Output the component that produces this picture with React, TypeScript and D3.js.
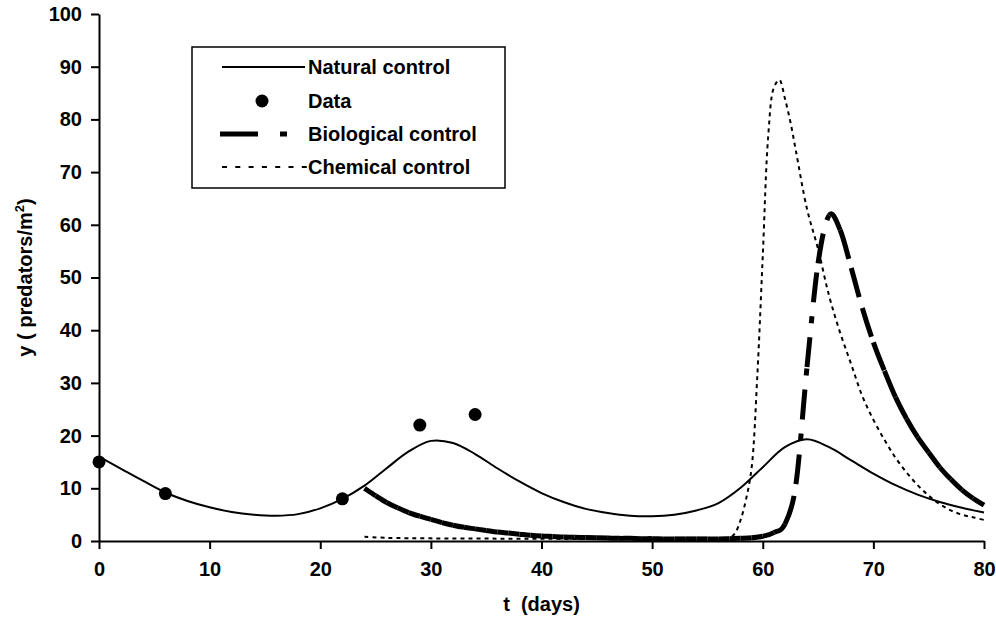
import React, { useEffect, useRef } from "react";
import * as d3 from "d3";

type Pt = { t: number; y: number };

// Natural control model curve
const NATURAL: Pt[] = [
  { t: 0, y: 16.0 }, { t: 2, y: 13.7 }, { t: 4, y: 11.4 }, { t: 6, y: 9.2 },
  { t: 8, y: 7.6 }, { t: 10, y: 6.4 }, { t: 12, y: 5.5 }, { t: 14, y: 5.0 },
  { t: 16, y: 4.8 }, { t: 18, y: 5.1 }, { t: 20, y: 6.2 }, { t: 22, y: 8.0 },
  { t: 24, y: 10.5 }, { t: 26, y: 13.8 }, { t: 28, y: 17.0 }, { t: 30, y: 19.0 },
  { t: 32, y: 18.6 }, { t: 34, y: 16.5 }, { t: 36, y: 13.8 }, { t: 38, y: 11.3 },
  { t: 40, y: 9.1 }, { t: 42, y: 7.4 }, { t: 44, y: 6.1 }, { t: 46, y: 5.3 },
  { t: 48, y: 4.8 }, { t: 50, y: 4.7 }, { t: 52, y: 5.0 }, { t: 54, y: 5.8 },
  { t: 56, y: 7.2 }, { t: 58, y: 10.1 }, { t: 60, y: 14.0 }, { t: 62, y: 17.8 },
  { t: 64, y: 19.3 }, { t: 66, y: 17.8 }, { t: 68, y: 15.3 }, { t: 70, y: 12.8 },
  { t: 72, y: 10.6 }, { t: 74, y: 8.8 }, { t: 76, y: 7.4 }, { t: 78, y: 6.3 },
  { t: 80, y: 5.4 },
];

// Field observations
const DATA: Pt[] = [
  { t: 0, y: 15 }, { t: 6, y: 9 }, { t: 22, y: 8 }, { t: 29, y: 22 }, { t: 34, y: 24 },
];

// Biological control curve
const BIOLOGICAL: Pt[] = [
  { t: 24, y: 10.0 }, { t: 25, y: 8.6 }, { t: 26, y: 7.3 }, { t: 27, y: 6.3 },
  { t: 28, y: 5.4 }, { t: 29, y: 4.7 }, { t: 30, y: 4.1 }, { t: 31, y: 3.5 },
  { t: 32, y: 3.0 }, { t: 33, y: 2.6 }, { t: 34, y: 2.3 }, { t: 35, y: 2.0 },
  { t: 36, y: 1.7 }, { t: 37, y: 1.5 }, { t: 38, y: 1.3 }, { t: 39, y: 1.1 },
  { t: 40, y: 0.95 }, { t: 41, y: 0.85 }, { t: 42, y: 0.75 }, { t: 43, y: 0.7 },
  { t: 44, y: 0.65 }, { t: 45, y: 0.6 }, { t: 46, y: 0.55 }, { t: 47, y: 0.5 },
  { t: 48, y: 0.5 }, { t: 49, y: 0.45 }, { t: 50, y: 0.45 }, { t: 51, y: 0.4 },
  { t: 52, y: 0.4 }, { t: 53, y: 0.4 }, { t: 54, y: 0.4 }, { t: 55, y: 0.4 },
  { t: 56, y: 0.4 }, { t: 57, y: 0.45 }, { t: 58, y: 0.5 }, { t: 59, y: 0.6 },
  { t: 60, y: 0.9 }, { t: 61, y: 1.6 }, { t: 62, y: 3.2 }, { t: 63, y: 10.8 },
  { t: 64, y: 33.0 }, { t: 65, y: 52.7 }, { t: 66, y: 61.8 }, { t: 67, y: 59.0 },
  { t: 68, y: 51.8 }, { t: 69, y: 44.2 }, { t: 70, y: 37.7 }, { t: 71, y: 32.3 },
  { t: 72, y: 27.3 }, { t: 73, y: 23.2 }, { t: 74, y: 19.7 }, { t: 75, y: 16.8 },
  { t: 76, y: 14.0 }, { t: 77, y: 11.7 }, { t: 78, y: 9.7 }, { t: 79, y: 8.1 },
  { t: 80, y: 6.8 },
];

// Chemical control curve
const CHEMICAL: Pt[] = [
  { t: 24, y: 0.8 }, { t: 26, y: 0.6 }, { t: 30, y: 0.5 }, { t: 36, y: 0.45 },
  { t: 42, y: 0.4 }, { t: 48, y: 0.4 }, { t: 54, y: 0.4 }, { t: 56, y: 0.4 },
  { t: 57, y: 0.6 }, { t: 57.5, y: 1.5 }, { t: 58, y: 4.0 }, { t: 58.5, y: 8.0 },
  { t: 59, y: 14.0 }, { t: 59.5, y: 31.0 }, { t: 60, y: 54.0 }, { t: 60.5, y: 77.0 },
  { t: 61, y: 86.0 }, { t: 61.5, y: 87.5 }, { t: 62, y: 84.0 }, { t: 62.5, y: 79.5 },
  { t: 63, y: 74.0 }, { t: 64, y: 63.0 }, { t: 65, y: 55.4 }, { t: 66, y: 46.5 },
  { t: 67, y: 39.5 }, { t: 68, y: 33.5 }, { t: 69, y: 27.5 }, { t: 70, y: 23.0 },
  { t: 71, y: 19.2 }, { t: 72, y: 15.8 }, { t: 73, y: 13.0 }, { t: 74, y: 10.6 },
  { t: 75, y: 8.6 }, { t: 76, y: 7.0 }, { t: 77, y: 5.8 }, { t: 78, y: 5.0 },
  { t: 79, y: 4.5 }, { t: 80, y: 4.0 },
];

const X_TICKS = [0, 10, 20, 30, 40, 50, 60, 70, 80];
const Y_TICKS = [0, 10, 20, 30, 40, 50, 60, 70, 80, 90, 100];
const LEGEND = ["Natural control", "Data", "Biological control", "Chemical control"];

const W = 996;
const H = 621;
const FONT = "'Liberation Sans', Arial, sans-serif";
const BIO_DASH = "30,14,7,14";
const CHEM_DASH = "4,4";

export default function App() {
  const svgRef = useRef<SVGSVGElement>(null);

  useEffect(() => {
    const svg = d3.select(svgRef.current);
    svg.selectAll("*").remove();

    const x = d3.scaleLinear().domain([0, 80]).range([99, 984]);
    const y = d3.scaleLinear().domain([0, 100]).range([541, 14]);

    const line = d3.line<Pt>()
      .x(d => x(d.t))
      .y(d => y(d.y))
      .curve(d3.curveCatmullRom.alpha(0.5));

    // Chemical control (thin dotted)
    svg.append("path")
      .datum(CHEMICAL)
      .attr("d", line)
      .attr("fill", "none")
      .attr("stroke", "#000")
      .attr("stroke-width", 2)
      .attr("stroke-dasharray", CHEM_DASH);

    // Natural control
    svg.append("path")
      .datum(NATURAL)
      .attr("d", line)
      .attr("fill", "none")
      .attr("stroke", "#000")
      .attr("stroke-width", 2);

    // Biological control: dash pattern restarts on every smoothed segment
    const P = BIOLOGICAL.map(d => [x(d.t), y(d.y)]);
    for (let i = 0; i < P.length - 1; i++) {
      const p0 = P[i - 1] ?? P[i];
      const p1 = P[i];
      const p2 = P[i + 1];
      const p3 = P[i + 2] ?? P[i + 1];
      const c1 = [p1[0] + (p2[0] - p0[0]) / 6, p1[1] + (p2[1] - p0[1]) / 6];
      const c2 = [p2[0] - (p3[0] - p1[0]) / 6, p2[1] - (p3[1] - p1[1]) / 6];
      svg.append("path")
        .attr("d", `M${p1[0]},${p1[1]}C${c1[0]},${c1[1]} ${c2[0]},${c2[1]} ${p2[0]},${p2[1]}`)
        .attr("fill", "none")
        .attr("stroke", "#000")
        .attr("stroke-width", 5)
        .attr("stroke-dasharray", BIO_DASH);
    }

    // Axes
    const yAxis = svg.append("g")
      .attr("transform", `translate(${x(0)},0)`)
      .call(d3.axisLeft(y).tickValues(Y_TICKS).tickSize(8).tickSizeOuter(0).tickPadding(9));
    const xAxis = svg.append("g")
      .attr("transform", `translate(0,${y(0)})`)
      .call(d3.axisBottom(x).tickValues(X_TICKS).tickSize(8).tickSizeOuter(0).tickPadding(13));
    [yAxis, xAxis].forEach(a => {
      a.attr("font-family", FONT).attr("font-size", 20).attr("font-weight", "bold");
      a.select(".domain").attr("stroke", "#000").attr("stroke-width", 2);
      a.selectAll(".tick line").attr("stroke", "#000").attr("stroke-width", 2);
      a.selectAll(".tick text").attr("fill", "#000");
    });

    // Data points
    svg.selectAll(".obs")
      .data(DATA)
      .join("circle")
      .attr("class", "obs")
      .attr("cx", d => x(d.t))
      .attr("cy", d => y(d.y))
      .attr("r", 6.5)
      .attr("fill", "#000");

    // Axis titles
    svg.append("text")
      .attr("x", (x(0) + x(80)) / 2)
      .attr("y", 611)
      .attr("text-anchor", "middle")
      .attr("font-family", FONT)
      .attr("font-size", 20)
      .attr("font-weight", "bold")
      .text("t\u00A0 (days)");

    const yt = svg.append("text")
      .attr("transform", `translate(32,${(y(0) + y(100)) / 2}) rotate(-90)`)
      .attr("text-anchor", "middle")
      .attr("font-family", FONT)
      .attr("font-size", 20)
      .attr("font-weight", "bold");
    yt.append("tspan").text("y ( predators/m");
    yt.append("tspan").attr("font-size", 13).attr("dy", -8).text("2");
    yt.append("tspan").attr("dy", 8).text(")");

    // Legend
    const lg = svg.append("g");
    lg.append("rect")
      .attr("x", 192).attr("y", 47)
      .attr("width", 313).attr("height", 141)
      .attr("fill", "#fff")
      .attr("stroke", "#000")
      .attr("stroke-width", 1.5);
    const rows = [67, 101, 134, 167];
    lg.append("line").attr("x1", 222).attr("x2", 305).attr("y1", rows[0]).attr("y2", rows[0])
      .attr("stroke", "#000").attr("stroke-width", 2);
    lg.append("circle").attr("cx", 262).attr("cy", rows[1]).attr("r", 6.5).attr("fill", "#000");
    lg.append("line").attr("x1", 220).attr("x2", 287).attr("y1", rows[2]).attr("y2", rows[2])
      .attr("stroke", "#000").attr("stroke-width", 5).attr("stroke-dasharray", "38,22,7");
    lg.append("line").attr("x1", 222).attr("x2", 308).attr("y1", rows[3]).attr("y2", rows[3])
      .attr("stroke", "#000").attr("stroke-width", 2).attr("stroke-dasharray", "5,8.3");
    lg.selectAll(".lt")
      .data(LEGEND)
      .join("text")
      .attr("class", "lt")
      .attr("x", 308)
      .attr("y", (d, i) => rows[i] + 7)
      .attr("font-family", FONT)
      .attr("font-size", 20)
      .attr("font-weight", "bold")
      .text(d => d);
  }, []);

  return (
    <svg
      ref={svgRef}
      width={W}
      height={H}
      style={{ position: "absolute", left: 0, top: 0, background: "#fff" }}
    />
  );
}
